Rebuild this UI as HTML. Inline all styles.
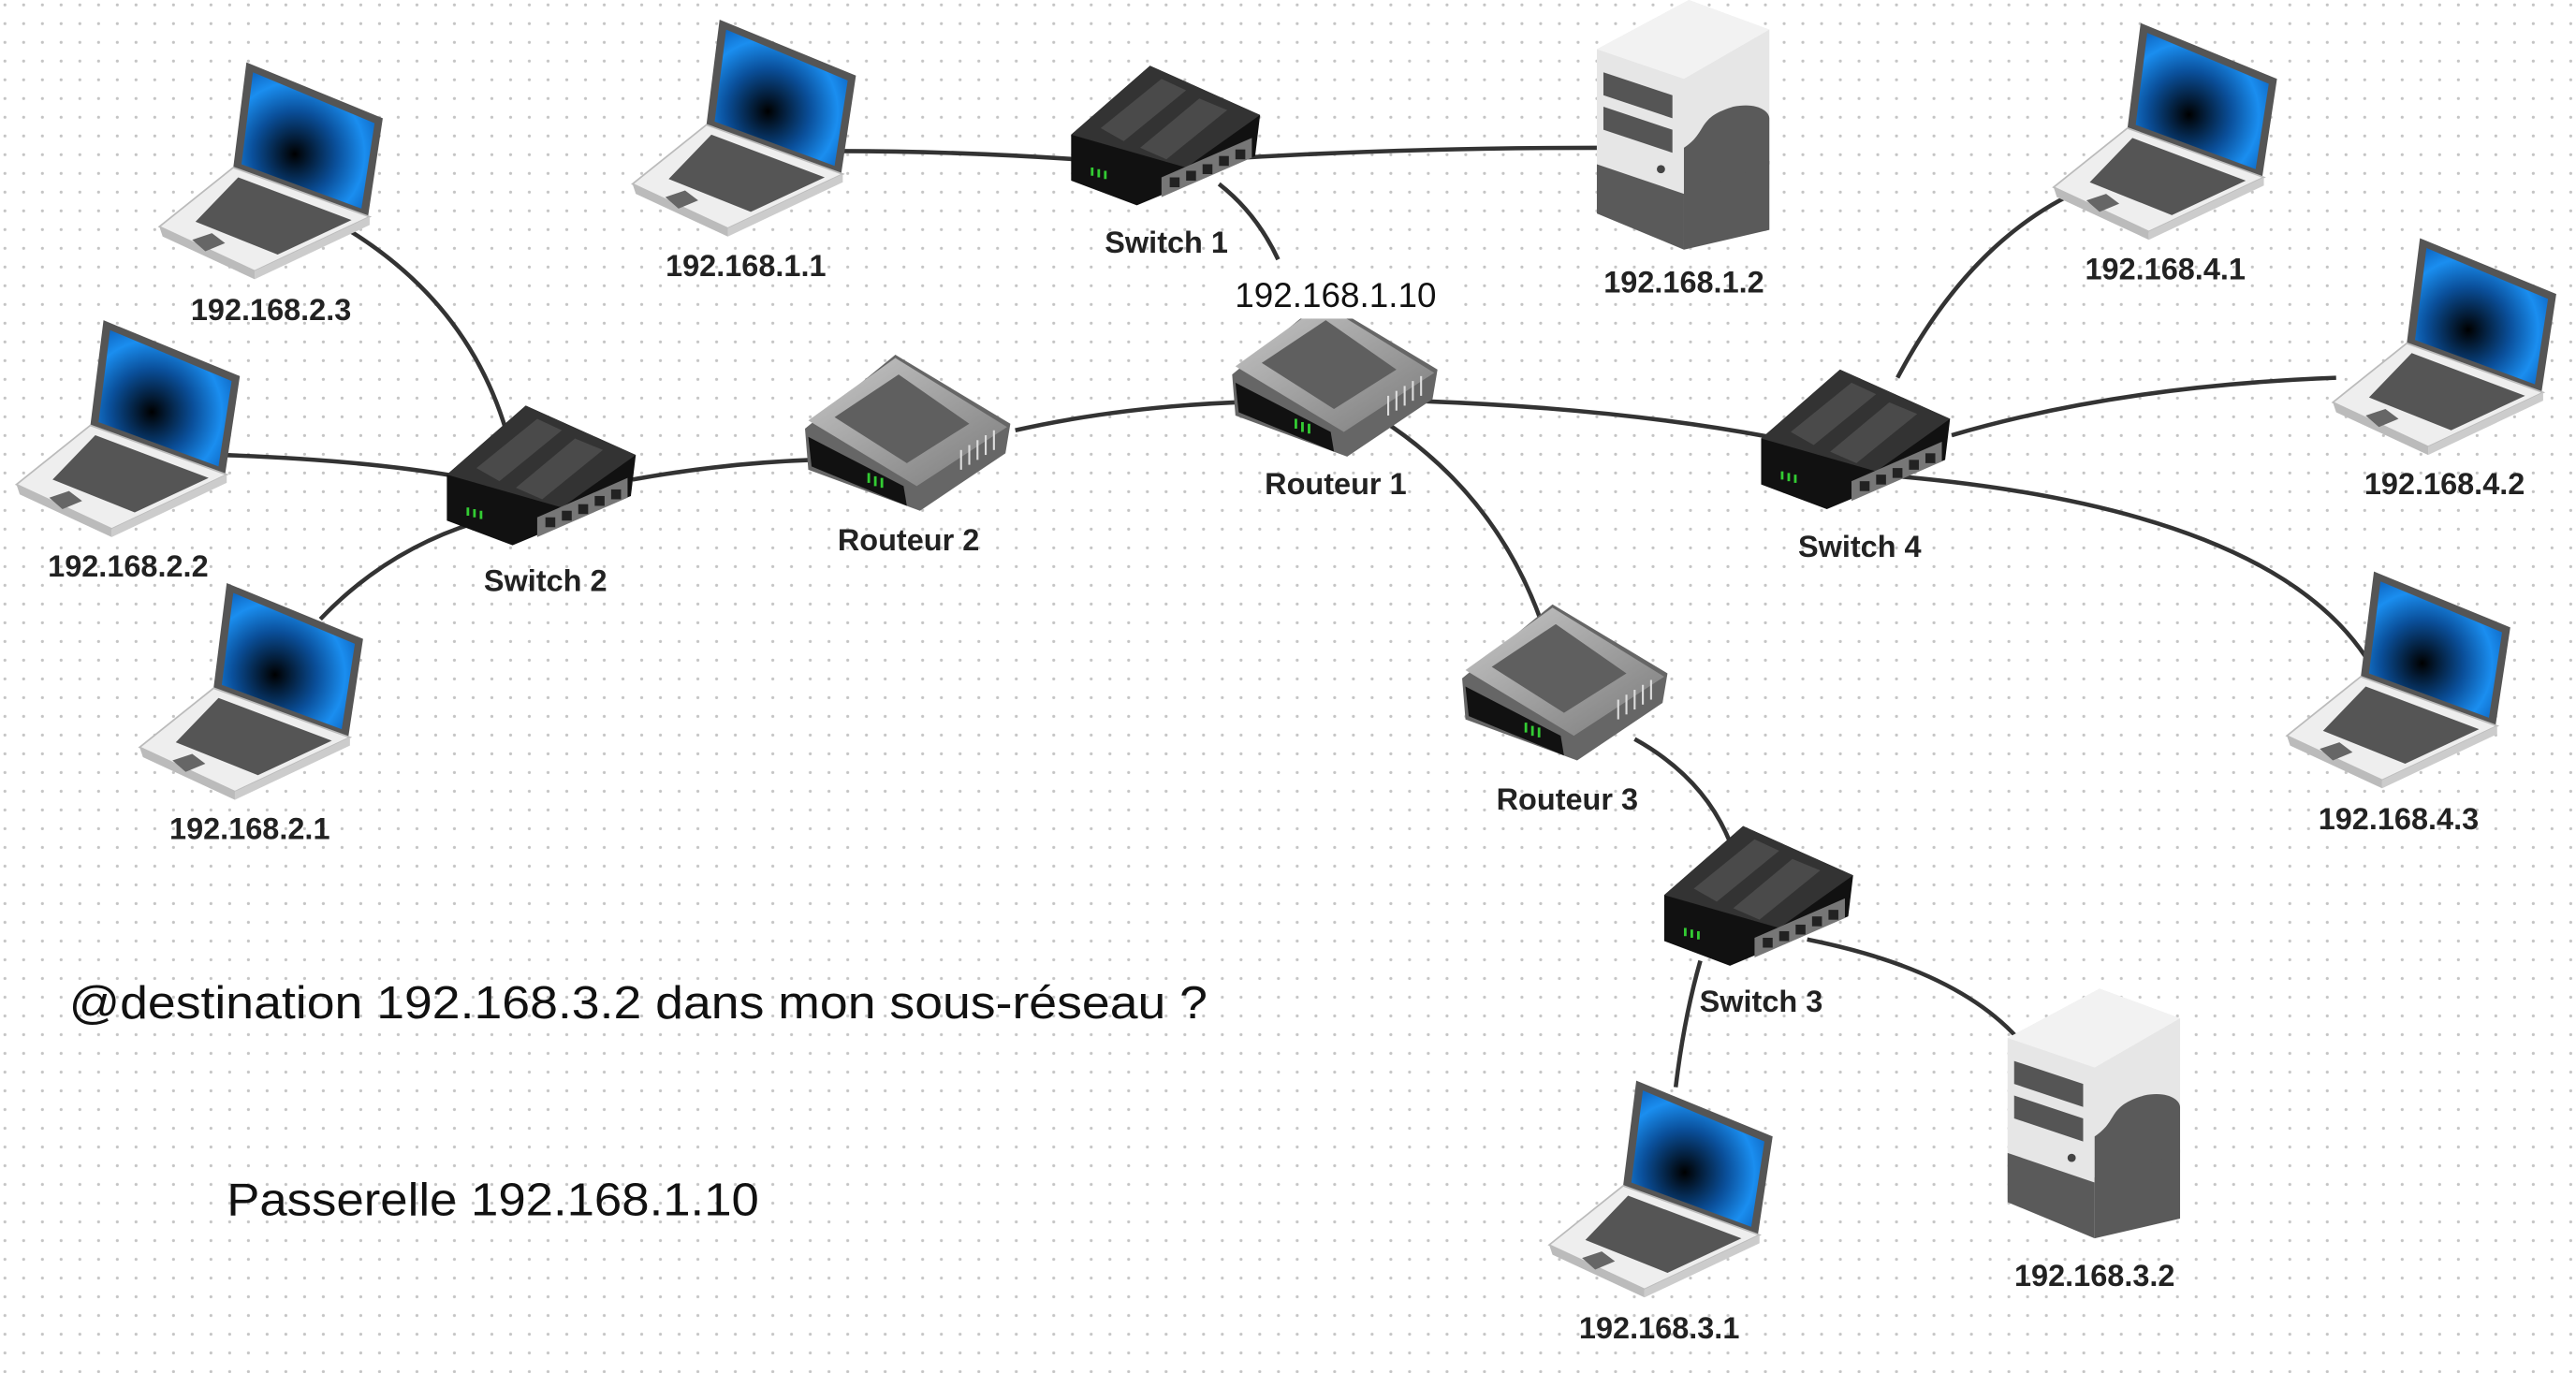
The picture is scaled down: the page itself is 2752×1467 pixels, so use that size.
<!DOCTYPE html>
<html><head><meta charset="utf-8"><style>
html,body{margin:0;padding:0;background:#fff;}
svg{display:block;}
.l{font-family:"Liberation Sans",Arial,sans-serif;font-weight:bold;font-size:18.5px;fill:#222;text-anchor:middle;}
</style></head><body>
<svg width="2752" height="1467" viewBox="0 0 1568 836" preserveAspectRatio="none" xmlns="http://www.w3.org/2000/svg">
<defs>
<pattern id="dots" width="11.4" height="11.4" patternUnits="userSpaceOnUse">
<circle cx="3" cy="3" r="0.9" fill="#c4c4c4"/>
</pattern>
<radialGradient id="scr" cx="0.4" cy="0.6" r="0.7">
<stop offset="0" stop-color="#000"/><stop offset="0.45" stop-color="#0a4f9a"/><stop offset="0.75" stop-color="#1a8ef0"/><stop offset="1" stop-color="#0d5fb8"/>
</radialGradient>
<linearGradient id="rtop" x1="0" y1="0" x2="1" y2="1"><stop offset="0" stop-color="#c8c8c8"/><stop offset="1" stop-color="#7a7a7a"/></linearGradient>
<g id="laptop">
<polygon points="53,0 136,34 127,94 45,64" fill="#555"/>
<polygon points="57,6 131,37 123,89 50,62" fill="url(#scr)"/>
<polygon points="45,64 128,94 58,127 0,100" fill="#eee" stroke="#bbb" stroke-width="1"/>
<polygon points="0,100 58,127 58,132 2,106" fill="#bbb"/>
<polygon points="58,127 128,94 128,99 58,132" fill="#ccc"/>
<polygon points="48,70 117,96 72,117 22,97" fill="#555"/>
<polygon points="20,108 32,104 40,110 28,115" fill="#666"/>
</g>
<g id="switch">
<polygon points="0,42 48,0 115,30 112,55 40,85 0,70" fill="#111"/>
<polygon points="0,42 48,0 115,30 70,62" fill="#333"/>
<polygon points="18,38 55,8 70,15 32,46" fill="#4a4a4a"/>
<polygon points="42,50 78,20 95,27 58,57" fill="#4a4a4a"/>
<polygon points="55,68 110,44 110,56 55,80" fill="#777"/>
<g fill="#222"><rect x="60" y="68" width="6" height="6"/><rect x="70" y="64" width="6" height="6"/><rect x="80" y="60" width="6" height="6"/><rect x="90" y="55" width="6" height="6"/><rect x="100" y="51" width="6" height="6"/></g>
<g fill="#3c3"><rect x="12" y="62" width="1.6" height="5"/><rect x="16" y="63" width="1.6" height="5"/><rect x="20" y="64" width="1.6" height="5"/></g>
</g>
<g id="router">
<polygon points="0,45 55,0 125,42 122,60 70,95 2,70" fill="#666"/>
<polygon points="2,40 55,2 123,44 68,80" fill="url(#rtop)"/>
<polygon points="18,38 57,12 100,42 62,66" fill="#5f5f5f"/>
<polygon points="2,50 60,80 62,92 4,68" fill="#111"/>
<g stroke="#ddd" stroke-width="1.2"><line x1="95" y1="70" x2="95" y2="58"/><line x1="100" y1="67" x2="100" y2="55"/><line x1="105" y1="64" x2="105" y2="52"/><line x1="110" y1="61" x2="110" y2="49"/><line x1="115" y1="58" x2="115" y2="46"/></g>
<g fill="#3c3"><rect x="38" y="72" width="1.6" height="6"/><rect x="42" y="74" width="1.6" height="6"/><rect x="46" y="75" width="1.6" height="6"/></g>
</g>
<g id="server">
<polygon points="2,30 58,0 107,18 107,140 55,150 2,128" fill="#e6e6e6"/>
<polygon points="2,30 58,0 107,18 55,48" fill="#f2f2f2"/>
<path d="M55,115 L107,98 L107,140 L55,152 Z" fill="#5a5a5a"/>
<path d="M55,90 C70,80 62,72 85,65 C100,62 107,68 107,72 L107,100 L55,118 Z" fill="#5a5a5a"/>
<path d="M2,100 L55,118 L55,152 L2,130 Z" fill="#5a5a5a"/>
<polygon points="6,44 48,58 48,72 6,58" fill="#555"/>
<polygon points="6,65 48,79 48,93 6,79" fill="#555"/>
<circle cx="41" cy="103" r="2.5" fill="#444"/>
</g>
</defs>
<rect width="1568" height="836" fill="#fff"/>
<rect width="1568" height="836" fill="url(#dots)"/>
<g stroke="#333" stroke-width="2.6" fill="none">
<path d="M512,92 Q580,92 655,97"/>
<path d="M740,97 Q850,90 972,90"/>
<path d="M742,112 Q765,130 778,158"/>
<path d="M212,140 Q285,185 308,262"/>
<path d="M135,277 Q220,280 278,290"/>
<path d="M195,377 Q235,335 290,318"/>
<path d="M385,292 Q440,282 495,280"/>
<path d="M618,262 Q680,248 752,245"/>
<path d="M858,244 Q980,248 1077,266"/>
<path d="M840,255 Q910,300 938,378"/>
<path d="M995,450 Q1040,475 1055,518"/>
<path d="M1155,230 Q1200,145 1268,115"/>
<path d="M1188,265 Q1290,235 1422,230"/>
<path d="M1155,290 Q1380,310 1440,400"/>
<path d="M1035,585 Q1025,620 1020,662"/>
<path d="M1100,572 Q1190,590 1228,632"/>
</g>
<use href="#laptop" x="97" y="38"/>
<use href="#laptop" x="10" y="195"/>
<use href="#laptop" x="85" y="355"/>
<use href="#laptop" x="385" y="12"/>
<use href="#laptop" x="1250" y="14"/>
<use href="#laptop" x="1420" y="145"/>
<use href="#laptop" x="1392" y="348"/>
<use href="#laptop" x="943" y="658"/>
<use href="#switch" x="652" y="40"/>
<use href="#switch" x="272" y="247"/>
<use href="#switch" x="1072" y="225"/>
<use href="#switch" x="1013" y="503"/>
<use href="#router" x="490" y="216"/>
<use href="#router" x="750" y="183"/>
<use href="#router" x="890" y="368"/>
<use href="#server" x="970" y="0"/>
<use href="#server" x="1220" y="602"/>
<rect x="738" y="164" width="150" height="30" fill="#fff"/>
<text x="813" y="187" font-family="Liberation Sans,Arial,sans-serif" font-size="21" text-anchor="middle" fill="#111">192.168.1.10</text>
<text class="l" x="165" y="195">192.168.2.3</text>
<text class="l" x="454" y="168">192.168.1.1</text>
<text class="l" x="710" y="154">Switch 1</text>
<text class="l" x="1025" y="178">192.168.1.2</text>
<text class="l" x="1318" y="170">192.168.4.1</text>
<text class="l" x="1488" y="301">192.168.4.2</text>
<text class="l" x="78" y="351">192.168.2.2</text>
<text class="l" x="332" y="360">Switch 2</text>
<text class="l" x="553" y="335">Routeur 2</text>
<text class="l" x="813" y="301">Routeur 1</text>
<text class="l" x="1132" y="339">Switch 4</text>
<text class="l" x="1460" y="505">192.168.4.3</text>
<text class="l" x="954" y="493">Routeur 3</text>
<text class="l" x="152" y="511">192.168.2.1</text>
<text class="l" x="1072" y="616">Switch 3</text>
<text class="l" x="1275" y="783">192.168.3.2</text>
<text class="l" x="1010" y="815">192.168.3.1</text>
<text x="42" y="620" font-family="Liberation Sans,Arial,sans-serif" font-size="28" fill="#111" textLength="693" lengthAdjust="spacingAndGlyphs">@destination 192.168.3.2 dans mon sous-réseau ?</text>
<text x="138" y="740" font-family="Liberation Sans,Arial,sans-serif" font-size="28" fill="#111" textLength="324" lengthAdjust="spacingAndGlyphs">Passerelle 192.168.1.10</text>
</svg>
</body></html>
